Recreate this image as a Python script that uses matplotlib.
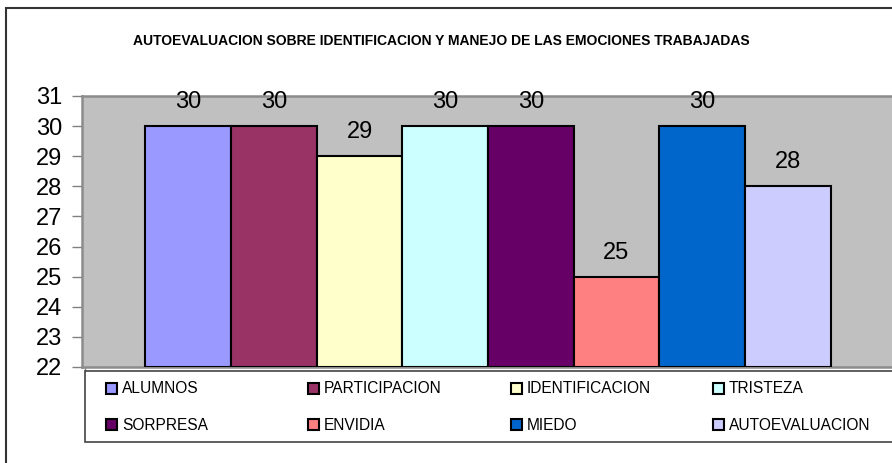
import matplotlib
matplotlib.use("Agg")
import matplotlib.pyplot as plt
from matplotlib.patches import Rectangle
import numpy as np

plt.rcParams['font.family'] = ['Liberation Sans', 'DejaVu Sans']

title = "AUTOEVALUACION SOBRE IDENTIFICACION Y MANEJO DE LAS EMOCIONES TRABAJADAS"
categories = ["ALUMNOS", "PARTICIPACION", "IDENTIFICACION", "TRISTEZA",
              "SORPRESA", "ENVIDIA", "MIEDO", "AUTOEVALUACION"]
values = [30, 30, 29, 30, 30, 25, 30, 28]
colors = ["#9999FF", "#993366", "#FFFFCC", "#CCFFFF",
          "#660066", "#FF8080", "#0066CC", "#CCCCFF"]
y_ticks = list(range(22, 32))

W, H = 892, 463
fig = plt.figure(figsize=(W / 100, H / 100), dpi=100)
fig.patch.set_facecolor("white")

def fx(px):
    return px / W

def fy(py):
    return 1 - py / H

# outer chart frame
fig.add_artist(Rectangle((fx(6), fy(480)), fx(900), fy(8) - fy(480),
                         transform=fig.transFigure, fill=False,
                         edgecolor="#333333", linewidth=1.5, zorder=0))

ax = fig.add_axes([fx(82), fy(367), fx(894 - 82), fy(96) - fy(367)])
ax.set_facecolor("#C0C0C0")

ymin, ymax = y_ticks[0], y_ticks[-1]
x = np.arange(len(values))
heights = np.array(values) - ymin
ax.bar(x, heights, bottom=ymin, width=1.0, color=colors,
       edgecolor="black", linewidth=1.5, zorder=3)

for xi, v in zip(x, values):
    ax.annotate(str(v), (xi, v), xytext=(0, 13), textcoords="offset points",
                ha="center", va="baseline", fontsize=17, color="black",
                annotation_clip=False, zorder=4)

ax.set_xlim(-0.5 - 0.74, len(values) - 0.5 + 0.74)
ax.set_ylim(ymin, ymax)
ax.set_yticks(y_ticks)
ax.set_yticklabels([str(t) for t in y_ticks], fontsize=17)
ax.set_xticks([ax.get_xlim()[0] + 0.03])
ax.set_xticklabels([""])
ax.tick_params(axis="both", direction="out", length=7, width=1,
               color="#808080", pad=7)

for side in ["top", "left", "bottom", "right"]:
    ax.spines[side].set_color("#8C8C8C")
    ax.spines[side].set_linewidth(1.8)

fig.text(fx(441), fy(41), title, ha="center", va="center",
         fontsize=10, fontweight="bold")

# legend box drawn below the plot area
fig.add_artist(Rectangle((fx(85), fy(442)), fx(900), fy(371) - fy(442),
                         transform=fig.transFigure, facecolor="white",
                         edgecolor="#444444", linewidth=1.2, zorder=5))
col_x = [106, 308, 511, 713]
row_y = [388.5, 425]
for i, (name, c) in enumerate(zip(categories, colors)):
    r, k = divmod(i, 4)
    mx, my = col_x[k], row_y[r]
    fig.add_artist(Rectangle((fx(mx), fy(my + 5)), fx(11), fy(my - 6) - fy(my + 5),
                             transform=fig.transFigure, facecolor=c,
                             edgecolor="black", linewidth=1.5, zorder=6))
    fig.text(fx(mx + 16), fy(my), name, ha="left", va="center",
             fontsize=11.2, zorder=7)

fig.savefig("out.png", dpi=100)
